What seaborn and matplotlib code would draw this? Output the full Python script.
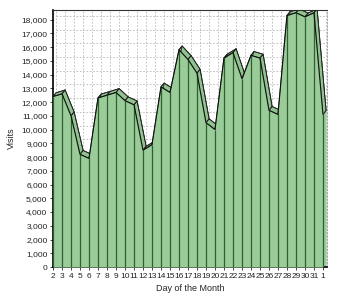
import matplotlib
matplotlib.use("Agg")
import matplotlib.pyplot as plt
import seaborn as sns
import numpy as np
import pandas as pd
from matplotlib.ticker import FuncFormatter

days = ["2", "3", "4", "5", "6", "7", "8", "9", "10", "11", "12", "13", "14", "15", "16",
        "17", "18", "19", "20", "21", "22", "23", "24", "25", "26", "27", "28", "29", "30", "31", "1"]
visits = [12400, 12600, 11000, 8200, 7900, 12300, 12500, 12700, 12100, 11800, 8500, 8900,
          13100, 12700, 15800, 15100, 14100, 10500, 10000, 15200, 15600, 13700, 15400, 15200,
          11400, 11100, 18300, 18500, 18200, 18500, 11100]
y_ticks = list(range(0, 19000, 1000))

sns.set_theme(style="white")
plt.rcParams['font.family'] = ['Liberation Sans', 'DejaVu Sans']

df = pd.DataFrame({"pos": np.arange(len(days)), "day": days, "visits": visits})

fig = plt.figure(figsize=(3.38, 3.0), dpi=100)
ax = fig.add_axes([53/338, 33/300, 274/338, 257/300])

# depth offset for the 3D look
dx, dy = 0.35, 280
x = df["pos"].to_numpy(dtype=float)
y = df["visits"].to_numpy(dtype=float)

# grid (back wall)
for t in y_ticks[1:]:
    ax.plot([0 + dx, 30 + dx], [t + dy, t + dy], color="#b8b8b8", lw=0.6, ls=(0, (2, 2)), zorder=0)
for p in x:
    ax.plot([p + dx, p + dx], [dy, 18700], color="#b8b8b8", lw=0.6, ls=(0, (2, 2)), zorder=0)

# back area and top faces
ax.fill_between(x + dx, y + dy, 0, color="#99cc99", lw=0, zorder=1)
for i in range(len(x) - 1):
    poly = [(x[i], y[i]), (x[i + 1], y[i + 1]), (x[i + 1] + dx, y[i + 1] + dy), (x[i] + dx, y[i] + dy)]
    ax.add_patch(plt.Polygon(poly, closed=True, facecolor="#8fc48f", edgecolor="#222222", lw=0.6, zorder=2))
for i in range(len(x)):
    ax.plot([x[i], x[i] + dx], [y[i], y[i] + dy], color="#222222", lw=0.6, zorder=3)
ax.plot(x + dx, y + dy, color="#222222", lw=0.6, zorder=3)

# front area
ax.fill_between(x, y, 0, color="#99cc99", lw=0, zorder=4)
ax.vlines(x, 0, y, color="#2f5f2f", lw=0.9, zorder=5)
sns.lineplot(data=df, x="pos", y="visits", color="#111111", lw=0.8, ax=ax, zorder=6)

ax.set_xlim(0, 30.45)
ax.set_ylim(0, 18700)
ax.set_xticks(x)
ax.set_xticklabels(days)
ax.set_yticks(y_ticks)
ax.yaxis.set_major_formatter(FuncFormatter(lambda v, p: f"{int(v):,}"))
ax.tick_params(axis="both", labelsize=6, length=2.5, width=0.6, pad=1.5, colors="#222222")
ax.tick_params(axis="both", bottom=True, left=True)
ax.set_xlabel("Day of the Month", fontsize=6.5, labelpad=3)
ax.set_ylabel("Visits", fontsize=6.5, labelpad=4)

for side in ["left", "bottom"]:
    ax.spines[side].set_color("#000000")
    ax.spines[side].set_linewidth(1.2)
ax.spines["top"].set_color("#333333")
ax.spines["top"].set_linewidth(0.8)
ax.spines["right"].set_color("#999999")
ax.spines["right"].set_linestyle((0, (2, 2)))
ax.spines["right"].set_linewidth(0.6)

fig.savefig("out.png", dpi=100)
